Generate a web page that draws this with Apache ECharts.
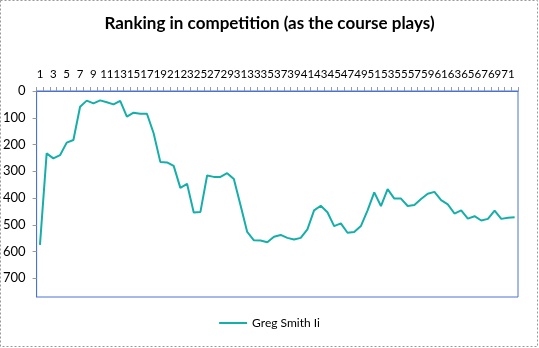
<!DOCTYPE html>
<html><head><meta charset="utf-8">
<script src="https://cdn.jsdelivr.net/npm/echarts@6/dist/echarts.min.js"></script>
<style>html,body{margin:0;padding:0;background:#fff}#c{width:539px;height:348px}</style>
</head><body><div id="c"></div>
<script>
const categories = [];
for (let i = 1; i <= 72; i++) categories.push(String(i));
const seriesName = 'Greg Smith Ii';
const ranking = [575,233,252,240,193,183,59,36,46,35,42,50,37,96,81,85,85,158,265,267,
280,362,347,454,452,316,321,321,307,329,427,527,558,559,565,545,538,549,555,549,
517,446,429,453,505,495,530,527,505,446,379,430,367,402,402,430,426,404,384,377,
408,424,458,446,477,468,484,478,447,478,474,472];
const yTicks = [0,100,200,300,400,500,600,700];

const chart = echarts.init(document.getElementById('c'));
chart.setOption({
  animation:false,
  backgroundColor:'#fff',
  title:{text:'Ranking in competition (as the course plays)',left:'center',top:10,
    textStyle:{fontFamily:'Lato',fontWeight:'bold',fontSize:17,color:'#000'}},
  graphic:[{type:'rect',shape:{x:0.5,y:0.5,width:537,height:346},
    style:{fill:null,stroke:'#999',lineWidth:1,lineDash:[2,2]},silent:true}],
  legend:{bottom:14,left:'center',itemWidth:28,itemHeight:2,
    icon:'rect',
    textStyle:{fontFamily:'Lato',fontSize:12,color:'#000'},data:[seriesName]},
  grid:{left:35,right:21,top:91,bottom:51,show:true,borderColor:'#4a72d4',borderWidth:1},
  xAxis:{type:'category',data:categories,position:'top',boundaryGap:true,
    axisLine:{lineStyle:{color:'#4a72d4'}},
    axisTick:{show:true,interval:0,inside:false,length:4,lineStyle:{color:'#999'}},
    axisLabel:{interval:1,fontFamily:'Lato',fontSize:11.5,color:'#000',margin:11}},
  yAxis:{type:'value',inverse:true,min:0,max:770,interval:100,
    axisLine:{show:true,lineStyle:{color:'#4a72d4'}},
    axisTick:{show:true,length:4,lineStyle:{color:'#999'}},
    splitLine:{show:false},
    axisLabel:{showMaxLabel:false,fontFamily:'Lato',fontSize:13,color:'#000',margin:11,
      formatter:v=>yTicks.includes(v)?String(v):''}},
  series:[{name:seriesName,type:'line',data:ranking,showSymbol:false,symbol:'none',
    lineStyle:{color:'#16aea9',width:2},itemStyle:{color:'#16aea9'}}]
});
</script></body></html>
